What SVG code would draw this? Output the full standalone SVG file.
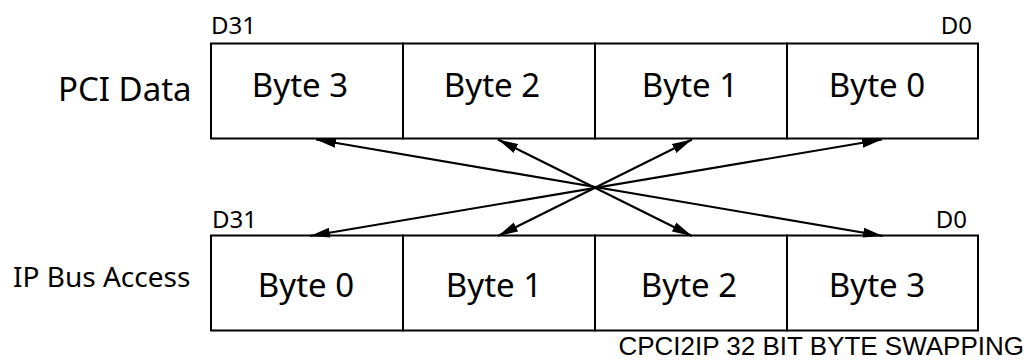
<svg xmlns="http://www.w3.org/2000/svg" width="1030" height="360" viewBox="0 0 1030 360">
<style>
.cell{fill:#fff;stroke:#000;stroke-width:2}
.bt{font-family:"Noto Sans",sans-serif;font-size:33px;fill:#000;text-anchor:middle}
.lbl{font-family:"Noto Sans",sans-serif;fill:#000}
.conn{stroke:#000;stroke-width:2.2;fill:none;marker-start:url(#ah);marker-end:url(#ah)}
.title{font-family:"Liberation Sans",Arial,sans-serif;font-size:26px;fill:#000;text-anchor:end}
</style>
<defs>
<marker id="ah" markerUnits="userSpaceOnUse" markerWidth="22" markerHeight="12" refX="20" refY="5" orient="auto-start-reverse" viewBox="0 0 22 10">
<path d="M0,0 L20,5 L0,10 z" fill="#000"/>
</marker>
</defs>
<rect width="1030" height="360" fill="#fff"/>
<text class="lbl" x="58" y="101" font-size="33">PCI Data</text>
<text class="lbl" x="13" y="287" font-size="28">IP Bus Access</text>
<text class="lbl" x="211" y="34" font-size="24">D31</text>
<text class="lbl" x="972" y="34" font-size="24" text-anchor="end">D0</text>
<text class="lbl" x="212" y="228" font-size="24">D31</text>
<text class="lbl" x="967" y="228" font-size="24" text-anchor="end">D0</text>
<g id="pci-byte3"><rect class="cell" x="211" y="43.5" width="192" height="95"/><text class="bt" x="300" y="97">Byte 3</text></g>
<g id="pci-byte2"><rect class="cell" x="403" y="43.5" width="192" height="95"/><text class="bt" x="492" y="97">Byte 2</text></g>
<g id="pci-byte1"><rect class="cell" x="595" y="43.5" width="192" height="95"/><text class="bt" x="690" y="97">Byte 1</text></g>
<g id="pci-byte0"><rect class="cell" x="787" y="43.5" width="191" height="95"/><text class="bt" x="877" y="97">Byte 0</text></g>
<g id="ip-byte0"><rect class="cell" x="211" y="235.5" width="192" height="95"/><text class="bt" x="306" y="297">Byte 0</text></g>
<g id="ip-byte1"><rect class="cell" x="403" y="235.5" width="192" height="95"/><text class="bt" x="494" y="297">Byte 1</text></g>
<g id="ip-byte2"><rect class="cell" x="595" y="235.5" width="192" height="95"/><text class="bt" x="689" y="297">Byte 2</text></g>
<g id="ip-byte3"><rect class="cell" x="787" y="235.5" width="191" height="95"/><text class="bt" x="877" y="297">Byte 3</text></g>
<g id="connectors">
<line class="conn" x1="316" y1="139.5" x2="883" y2="236"/>
<line class="conn" x1="498" y1="139.5" x2="692" y2="236"/>
<line class="conn" x1="692" y1="139.5" x2="498" y2="236"/>
<line class="conn" x1="882" y1="139.5" x2="310" y2="236"/>
</g>
<text class="title" x="1024" y="355">CPCI2IP 32 BIT BYTE SWAPPING</text>
</svg>
